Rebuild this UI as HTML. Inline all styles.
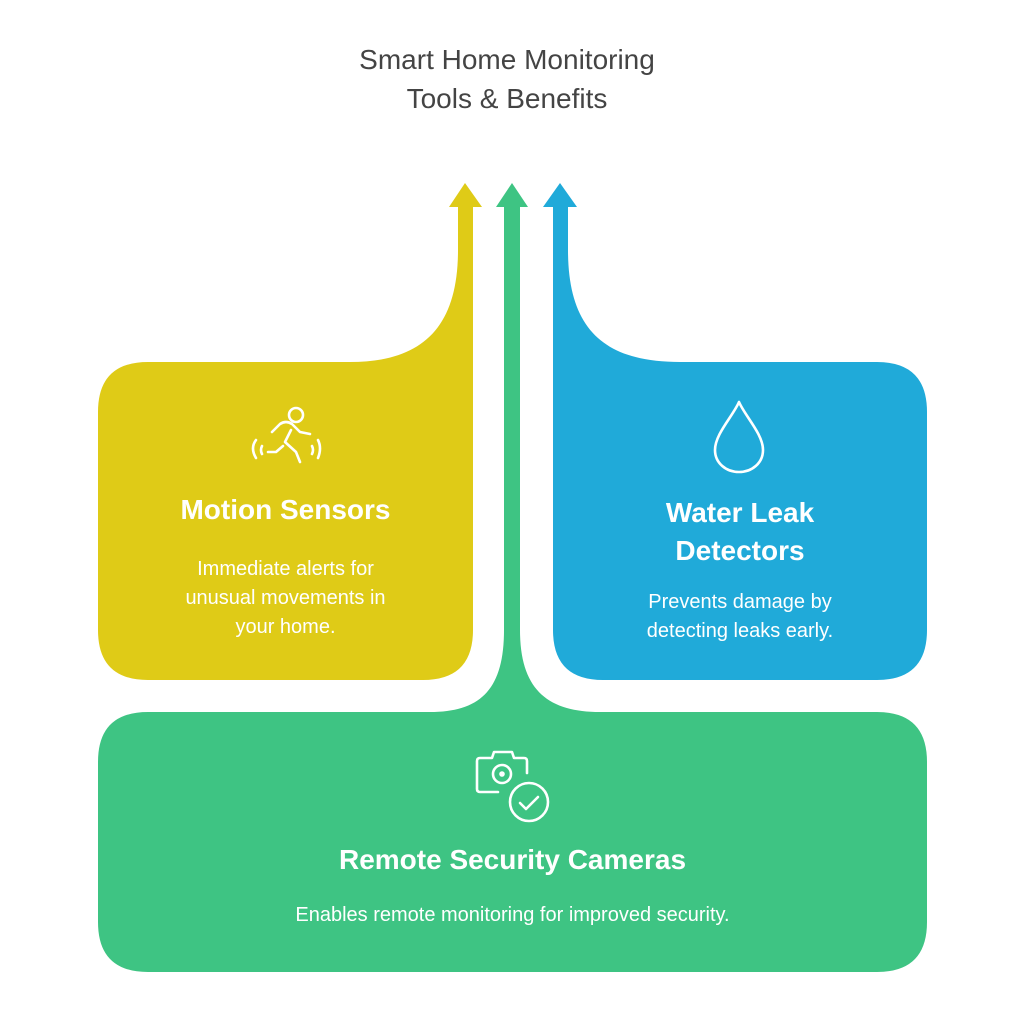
<!DOCTYPE html>
<html><head><meta charset="utf-8"><style>
html,body{margin:0;padding:0;background:#fff;}
body{width:1024px;height:1024px;position:relative;overflow:hidden;font-family:"Liberation Sans",sans-serif;}
.t{position:absolute;text-align:center;}
</style></head><body>
<svg width="1024" height="1024" style="position:absolute;left:0;top:0">
<!-- yellow -->
<path d="M148,362 L350,362 C420,362 458,330 458,250 L458,207 L449,207 L465,183 L482,207 L473,207 L473,630 Q473,680 423,680 L148,680 Q98,680 98,630 L98,412 Q98,362 148,362 Z" fill="#DFCB17"/>
<!-- blue -->
<path d="M877,362 L680,362 C605,362 568,330 568,250 L568,207 L577,207 L560,183 L543,207 L553,207 L553,630 Q553,680 603,680 L877,680 Q927,680 927,630 L927,412 Q927,362 877,362 Z" fill="#20AAD9"/>
<!-- green -->
<path d="M148,712 L430,712 C480,712 504,690 504,630 L504,207 L496,207 L512,183 L528,207 L520,207 L520,630 C520,690 548,712 600,712 L877,712 Q927,712 927,762 L927,922 Q927,972 877,972 L148,972 Q98,972 98,922 L98,762 Q98,712 148,712 Z" fill="#3EC483"/>
<!-- motion icon -->
<g fill="none" stroke="#fff" stroke-width="2.6" stroke-linecap="round" stroke-linejoin="round">
<circle cx="296" cy="415" r="7"/>
<path d="M272,432 L280,424 Q286,420 292,424 L300,432 L310,434 M291,430 L285,442 L296,452 L300,462 M283,446 L276,452 L268,452 M256,440 Q250,448 256,458 M262,446 Q260,450 262,454 M318,440 Q322,448 318,458 M312,446 Q314,450 312,454"/>
</g>
<!-- drop icon -->
<path d="M739,402 C733,416 715,434 715,450 C715,463 726,472 739,472 C752,472 763,463 763,450 C763,434 745,416 739,402 Z" fill="none" stroke="#fff" stroke-width="2.6" stroke-linejoin="round"/>
<!-- camera icon -->
<g fill="none" stroke="#fff" stroke-width="2.6" stroke-linecap="round" stroke-linejoin="round">
<path d="M498,792 L480,792 Q477,792 477,789 L477,761 Q477,758 480,758 L492,758 L494,752 L512,752 L514,758 L524,758 Q527,758 527,761 L527,773"/>
<circle cx="502" cy="774" r="9"/>
<circle cx="502" cy="774" r="1.5" fill="#fff"/>
<circle cx="529" cy="802" r="19"/>
<path d="M520,803 L526,809 L538,797"/>
</g>
</svg>
<div class="t" style="left:307px;top:40px;width:400px;font-size:28px;line-height:39px;color:#444;">Smart Home Monitoring<br>Tools &amp; Benefits</div>
<div class="t" style="left:98px;top:494px;width:375px;font-size:28px;font-weight:bold;color:#fff;">Motion Sensors</div>
<div class="t" style="left:98px;top:555px;width:375px;font-size:20px;line-height:29px;color:#fff;">Immediate alerts for<br>unusual movements in<br>your home.</div>
<div class="t" style="left:553px;top:494px;width:374px;font-size:28px;font-weight:bold;line-height:38px;color:#fff;">Water Leak<br>Detectors</div>
<div class="t" style="left:553px;top:588px;width:374px;font-size:20px;line-height:29px;color:#fff;">Prevents damage by<br>detecting leaks early.</div>
<div class="t" style="left:98px;top:844px;width:829px;font-size:28px;font-weight:bold;color:#fff;">Remote Security Cameras</div>
<div class="t" style="left:98px;top:904px;width:829px;font-size:20px;color:#fff;">Enables remote monitoring for improved security.</div>
</body></html>
